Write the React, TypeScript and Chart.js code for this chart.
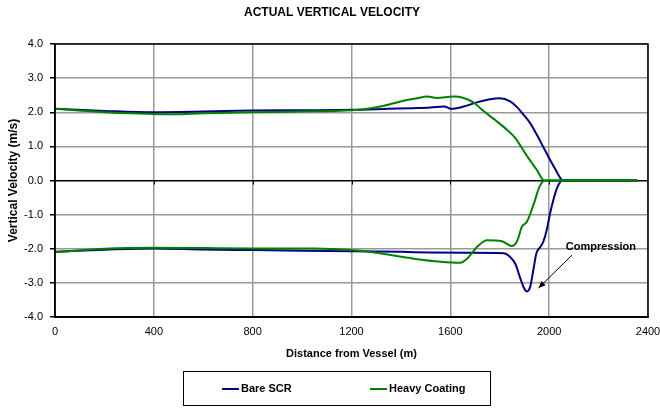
import React, { useEffect, useRef } from 'react';
import { Chart, registerables } from 'chart.js';

Chart.register(...registerables);

// ---------- text ----------
const chartTitle = 'ACTUAL VERTICAL VELOCITY';
const xAxisTitle = 'Distance from Vessel (m)';
const yAxisTitle = 'Vertical Velocity (m/s)';
const seriesNames = ['Bare SCR', 'Heavy Coating'];
const annotationText = 'Compression';

// ---------- axes ----------
const xMin = 0;
const xMax = 2400;
const xStep = 400;
const yMin = -4;
const yMax = 4;
const yStep = 1;

// ---------- data: Bare SCR ----------
const bareUpperX = [0, 200, 400, 600, 800, 1000, 1200, 1350, 1450, 1520, 1575, 1603, 1650, 1708, 1760, 1800, 1842, 1870, 1896, 1923, 1950, 1975, 2004, 2025, 2040, 2056, 2200, 2356];
const bareUpperV = [2.10, 2.04, 2.00, 2.02, 2.05, 2.06, 2.07, 2.10, 2.12, 2.14, 2.17, 2.10, 2.16, 2.29, 2.38, 2.41, 2.32, 2.15, 1.93, 1.68, 1.34, 1.00, 0.60, 0.33, 0.13, 0, 0, 0];
const bareLowerX = [0, 200, 400, 600, 800, 1000, 1200, 1400, 1519, 1681, 1816, 1842, 1863, 1883, 1898, 1910, 1923, 1937, 1948, 1964, 1977, 1990, 2004, 2017, 2030, 2045, 2056, 2200, 2356];
const bareLowerV = [-2.09, -2.03, -1.99, -2.02, -2.04, -2.06, -2.07, -2.09, -2.11, -2.12, -2.13, -2.24, -2.44, -2.86, -3.15, -3.25, -3.12, -2.58, -2.14, -1.95, -1.78, -1.45, -0.95, -0.57, -0.25, -0.04, 0, 0, 0];

// ---------- data: Heavy Coating ----------
const heavyUpperX = [0, 200, 400, 480, 600, 800, 1000, 1200, 1250, 1331, 1411, 1460, 1506, 1546, 1613, 1654, 1694, 1721, 1762, 1789, 1830, 1863, 1910, 1950, 1980, 2200, 2356];
const heavyUpperV = [2.10, 2.00, 1.95, 1.94, 1.97, 2.00, 2.02, 2.06, 2.09, 2.19, 2.34, 2.40, 2.46, 2.42, 2.46, 2.42, 2.29, 2.12, 1.88, 1.73, 1.48, 1.24, 0.72, 0.31, 0, 0, 0];
const heavyLowerX = [0, 200, 400, 600, 800, 1051, 1200, 1300, 1452, 1560, 1640, 1668, 1708, 1748, 1809, 1849, 1872, 1889, 1910, 1937, 1961, 1982, 2200, 2356];
const heavyLowerV = [-2.10, -2.00, -1.97, -1.98, -1.99, -1.99, -2.04, -2.12, -2.29, -2.38, -2.41, -2.29, -1.95, -1.75, -1.78, -1.92, -1.75, -1.36, -1.21, -0.70, -0.18, 0, 0, 0];

// ---------- annotation anchors (data coordinates) ----------
const arrowFrom = { x: 2092, y: -2.19 };
const arrowTo = { x: 1957, y: -3.15 };
const labelAt = { x: 2067, y: -1.96 };

const BLUE = '#000080';
const GREEN = '#008000';
const FONT = '"Liberation Sans", Arial, sans-serif';

const pts = (xs: number[], vs: number[]) => xs.map((x, i) => ({ x, y: vs[i] }));

const decorPlugin = {
  id: 'decor',
  afterDraw(chart: any) {
    const { ctx, chartArea: a, scales } = chart;
    const xs = scales.x;
    const ys = scales.y;
    ctx.save();

    // plot border
    ctx.strokeStyle = '#000';
    ctx.lineWidth = 1.5;
    ctx.strokeRect(a.left, a.top, a.right - a.left, a.bottom - a.top);

    // tick marks on the zero line
    const y0 = ys.getPixelForValue(0);
    ctx.lineWidth = 1;
    for (let v = xMin + xStep; v < xMax; v += xStep) {
      const px = Math.round(xs.getPixelForValue(v)) + 0.5;
      ctx.beginPath();
      ctx.moveTo(px, y0);
      ctx.lineTo(px, y0 + 4);
      ctx.stroke();
    }

    // title
    ctx.fillStyle = '#000';
    ctx.font = `bold 12px ${FONT}`;
    ctx.textAlign = 'center';
    ctx.textBaseline = 'middle';
    ctx.fillText(chartTitle, 332, 13);

    // annotation
    const fx = xs.getPixelForValue(arrowFrom.x);
    const fy = ys.getPixelForValue(arrowFrom.y);
    const tx = xs.getPixelForValue(arrowTo.x);
    const ty = ys.getPixelForValue(arrowTo.y);
    ctx.strokeStyle = '#000';
    ctx.lineWidth = 1;
    ctx.beginPath();
    ctx.moveTo(fx, fy);
    ctx.lineTo(tx, ty);
    ctx.stroke();
    const ang = Math.atan2(ty - fy, tx - fx);
    const hl = 7;
    const hw = 3;
    ctx.beginPath();
    ctx.moveTo(tx, ty);
    ctx.lineTo(tx - hl * Math.cos(ang) + hw * Math.sin(ang), ty - hl * Math.sin(ang) - hw * Math.cos(ang));
    ctx.lineTo(tx - hl * Math.cos(ang) - hw * Math.sin(ang), ty - hl * Math.sin(ang) + hw * Math.cos(ang));
    ctx.closePath();
    ctx.fillStyle = '#000';
    ctx.fill();
    ctx.font = `bold 11px ${FONT}`;
    ctx.textAlign = 'left';
    ctx.textBaseline = 'middle';
    ctx.fillText(annotationText, xs.getPixelForValue(labelAt.x), ys.getPixelForValue(labelAt.y));

    // legend box
    ctx.lineWidth = 1;
    ctx.strokeStyle = '#000';
    ctx.strokeRect(183.5, 371.5, 307, 34);
    const items = [
      { color: BLUE, label: seriesNames[0], x0: 222 },
      { color: GREEN, label: seriesNames[1], x0: 370 },
    ];
    items.forEach((it) => {
      ctx.strokeStyle = it.color;
      ctx.lineWidth = 2;
      ctx.beginPath();
      ctx.moveTo(it.x0, 389);
      ctx.lineTo(it.x0 + 17, 389);
      ctx.stroke();
      ctx.fillStyle = '#000';
      ctx.font = `bold 11px ${FONT}`;
      ctx.textAlign = 'left';
      ctx.textBaseline = 'middle';
      ctx.fillText(it.label, it.x0 + 19, 389);
    });

    ctx.restore();
  },
};

export default function App() {
  const ref = useRef<HTMLCanvasElement>(null);

  useEffect(() => {
    if (!ref.current) return;
    Chart.defaults.font.family = FONT;
    Chart.defaults.color = '#000';

    const lineDs = (label: string, data: any[], color: string, order: number) => ({
      label,
      data,
      borderColor: color,
      backgroundColor: color,
      borderWidth: 2,
      pointRadius: 0,
      fill: false,
      cubicInterpolationMode: 'monotone' as const,
      order,
    });

    const chart = new Chart(ref.current, {
      type: 'line',
      data: {
        datasets: [
          lineDs(seriesNames[0], pts(bareUpperX, bareUpperV), BLUE, 2),
          lineDs(seriesNames[0], pts(bareLowerX, bareLowerV), BLUE, 2),
          lineDs(seriesNames[1], pts(heavyUpperX, heavyUpperV), GREEN, 1),
          lineDs(seriesNames[1], pts(heavyLowerX, heavyLowerV), GREEN, 1),
        ],
      },
      options: {
        responsive: false,
        animation: false,
        events: [],
        layout: { padding: { top: 44, right: 12, bottom: 0, left: 0 } },
        plugins: {
          legend: { display: false },
          tooltip: { enabled: false },
          title: { display: false },
        },
        scales: {
          x: {
            type: 'linear',
            min: xMin,
            max: xMax,
            ticks: {
              stepSize: xStep,
              padding: 8,
              font: { size: 11 },
              color: '#000',
              maxRotation: 0,
              callback: (v: any) => String(v),
            },
            grid: {
              color: '#999',
              lineWidth: 1.5,
              drawTicks: false,
            },
            border: { display: true, color: '#000', width: 2 },
            title: {
              display: true,
              text: xAxisTitle,
              font: { size: 11, weight: 'bold' },
              color: '#000',
              padding: { top: 0, bottom: 47 },
            },
            afterFit: (s: any) => {
              s.height = 91;
              s.paddingLeft = 0;
              s.paddingRight = 0;
            },
          },
          y: {
            type: 'linear',
            min: yMin,
            max: yMax,
            ticks: {
              stepSize: yStep,
              padding: 7,
              font: { size: 11 },
              color: '#000',
              callback: (v: any) => Number(v).toFixed(1),
            },
            grid: {
              color: (c: any) => (c.tick && c.tick.value === 0 ? '#000' : '#999'),
              lineWidth: 1.5,
              drawTicks: true,
              tickLength: 5,
              tickColor: '#000',
            },
            border: { display: true, color: '#000', width: 1.5 },
            title: {
              display: true,
              text: yAxisTitle,
              font: { size: 12, weight: 'bold' },
              color: '#000',
              padding: { top: 6, bottom: 0 },
            },
            afterFit: (s: any) => {
              s.width = 55;
              s.paddingTop = 0;
              s.paddingBottom = 0;
            },
          },
        },
      },
      plugins: [decorPlugin],
    });

    return () => chart.destroy();
  }, []);

  return (
    <div style={{ position: 'fixed', left: 0, top: 0, width: 660, height: 408, background: '#fff' }}>
      <canvas ref={ref} width={660} height={408} style={{ display: 'block' }} />
    </div>
  );
}
